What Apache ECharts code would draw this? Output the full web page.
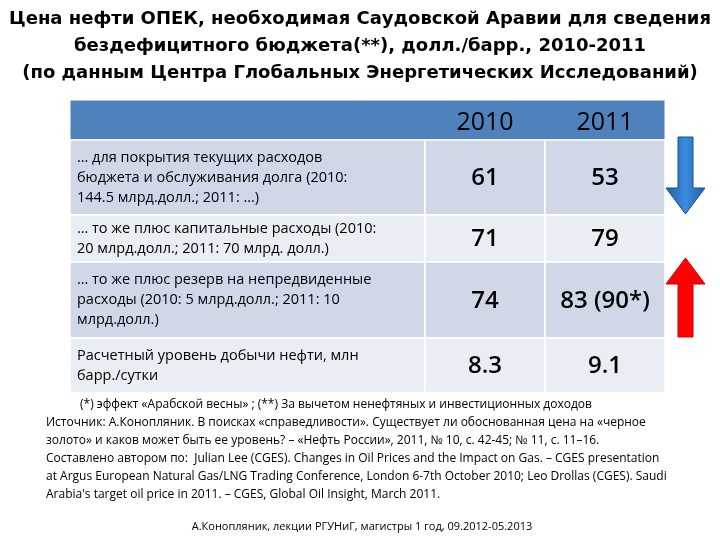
<!DOCTYPE html>
<html lang="ru">
<head>
<meta charset="UTF-8">
<title>Цена нефти ОПЕК</title>
<script src="https://cdn.jsdelivr.net/npm/echarts@6/dist/echarts.min.js"></script>
<style>
  html, body { margin: 0; padding: 0; background: #fff; }
  #main { width: 720px; height: 540px; }
</style>
</head>
<body>
<div id="main"></div>
<script>
var titleLines = [
  'Цена нефти ОПЕК, необходимая Саудовской Аравии для сведения',
  'бездефицитного бюджета(**), долл./барр., 2010-2011',
  '(по данным Центра Глобальных Энергетических Исследований)'
];
var years = ['2010', '2011'];
var rowLabels = [
  '… для покрытия текущих расходов\nбюджета и обслуживания долга (2010:\n144.5 млрд.долл.; 2011: …)',
  '… то же плюс капитальные расходы (2010:\n20 млрд.долл.; 2011: 70 млрд. долл.)',
  '… то же плюс резерв на непредвиденные\nрасходы (2010: 5 млрд.долл.; 2011: 10\nмлрд.долл.)',
  'Расчетный уровень добычи нефти, млн\nбарр./сутки'
];
var values2010 = ['61', '71', '74', '8.3'];
var values2011 = ['53', '79', '83 (90*)', '9.1'];
var notes = [
  '(*) эффект «Арабской весны» ; (**) За вычетом ненефтяных и инвестиционных доходов',
  'Источник: А.Конопляник. В поисках «справедливости». Существует ли обоснованная цена на «черное',
  'золото» и каков может быть ее уровень? – «Нефть России», 2011, № 10, с. 42-45; № 11, с. 11–16.',
  'Составлено автором по:  Julian Lee (CGES). Changes in Oil Prices and the Impact on Gas. – CGES presentation',
  'at Argus European Natural Gas/LNG Trading Conference, London 6-7th October 2010; Leo Drollas (CGES). Saudi',
  'Arabia\'s target oil price in 2011. – CGES, Global Oil Insight, March 2011.'
];
var footer = 'А.Конопляник, лекции РГУНиГ, магистры 1 год, 09.2012-05.2013';

var colX = [70, 425, 545, 665];
var rowY = [100, 140, 215, 262, 338, 393];
var fills = ['#d0d8e8', '#e9edf4', '#d0d8e8', '#e9edf4'];
var els = [];

titleLines.forEach(function (t, i) {
  els.push({ type: 'text', x: 360, y: 19 + i * 27, style: {
    text: t, fill: '#000', font: 'bold 18px "DejaVu Sans"', align: 'center', verticalAlign: 'middle' } });
});

// header
els.push({ type: 'rect', shape: { x: colX[0], y: rowY[0], width: colX[3] - colX[0], height: rowY[1] - rowY[0] },
  style: { fill: '#4f81bd', stroke: '#fff', lineWidth: 1 } });
years.forEach(function (y, j) {
  els.push({ type: 'text', x: (colX[j + 1] + colX[j + 2]) / 2, y: 123, style: {
    text: y, fill: '#000', font: '25px "Open Sans"', align: 'center', verticalAlign: 'middle' } });
});

rowLabels.forEach(function (lab, i) {
  var y0 = rowY[i + 1], y1 = rowY[i + 2], cy = (y0 + y1) / 2;
  for (var c = 0; c < 3; c++) {
    els.push({ type: 'rect', shape: { x: colX[c], y: y0, width: colX[c + 1] - colX[c], height: y1 - y0 },
      style: { fill: fills[i], stroke: '#fff', lineWidth: 1.5 } });
  }
  els.push({ type: 'text', x: colX[0] + 7, y: cy, style: {
    text: lab, fill: '#000', font: '14.5px "Open Sans"', lineHeight: 20, align: 'left', verticalAlign: 'middle' } });
  [values2010[i], values2011[i]].forEach(function (v, j) {
    els.push({ type: 'text', x: (colX[j + 1] + colX[j + 2]) / 2, y: cy + 1, style: {
      text: v, fill: '#000', font: '600 24px "Open Sans"', align: 'center', verticalAlign: 'middle' } });
  });
});

// arrows
els.push({ type: 'polygon', shape: { points: [[678, 137], [693, 137], [693, 188], [705, 188], [685.5, 214], [666, 188], [678, 188]] },
  style: { fill: new echarts.graphic.LinearGradient(0, 0, 1, 0, [{ offset: 0, color: '#1f5fa8' }, { offset: 0.5, color: '#3b8be0' }, { offset: 1, color: '#1f5fa8' }]), stroke: '#1a4f8c' } });
els.push({ type: 'polygon', shape: { points: [[685.5, 258], [705, 284], [693, 284], [693, 337], [678, 337], [678, 284], [666, 284]] },
  style: { fill: '#ff0000', stroke: '#d00000' } });

notes.forEach(function (t, i) {
  els.push({ type: 'text', x: i === 0 ? 80 : 46, y: 405 + i * 18, style: {
    text: t, fill: '#000', font: '12px "Open Sans"', align: 'left', verticalAlign: 'middle' } });
});
els.push({ type: 'text', x: 362, y: 527, style: {
  text: footer, fill: '#000', font: '11px "Open Sans"', align: 'center', verticalAlign: 'middle' } });

var chart = echarts.init(document.getElementById('main'));
chart.setOption({ backgroundColor: '#fff', graphic: { elements: els } });
</script>
</body>
</html>
